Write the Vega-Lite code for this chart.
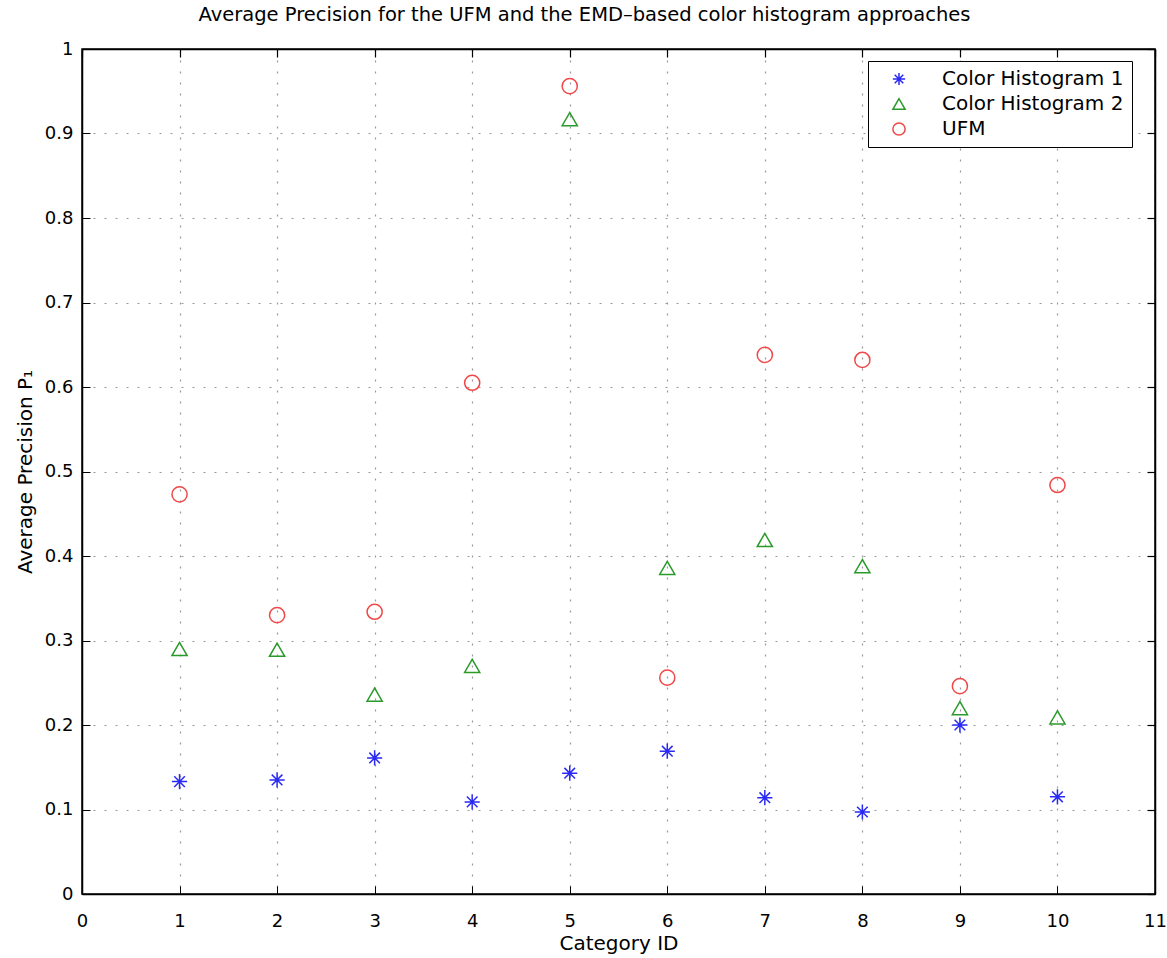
{
  "$schema": "https://vega.github.io/schema/vega-lite/v6.json",
  "width": 1073,
  "height": 845,
  "autosize": {"type": "none"},
  "padding": {"left": 82, "top": 49, "right": 12, "bottom": 64},
  "background": "white",
  "config": {
    "font": "DejaVu Sans",
    "view": {"stroke": "black", "strokeWidth": 1.5},
    "axis": {"labelFont": "DejaVu Sans", "titleFont": "DejaVu Sans", "labelColor": "black", "titleColor": "black", "titleFontWeight": "normal", "domainColor": "black", "tickColor": "black"}
  },
  "title": {"text": "Average Precision for the UFM and the EMD\u2013based color histogram approaches", "fontSize": 19.5, "fontWeight": "normal", "font": "DejaVu Sans", "offset": 15, "dx": -34, "color": "black"},
  "data": {"values": [
    {"category": 1, "series": "Color Histogram 1", "precision": 0.133},
    {"category": 2, "series": "Color Histogram 1", "precision": 0.135},
    {"category": 3, "series": "Color Histogram 1", "precision": 0.161},
    {"category": 4, "series": "Color Histogram 1", "precision": 0.109},
    {"category": 5, "series": "Color Histogram 1", "precision": 0.143},
    {"category": 6, "series": "Color Histogram 1", "precision": 0.169},
    {"category": 7, "series": "Color Histogram 1", "precision": 0.114},
    {"category": 8, "series": "Color Histogram 1", "precision": 0.097},
    {"category": 9, "series": "Color Histogram 1", "precision": 0.200},
    {"category": 10, "series": "Color Histogram 1", "precision": 0.115},
    {"category": 1, "series": "Color Histogram 2", "precision": 0.290},
    {"category": 2, "series": "Color Histogram 2", "precision": 0.289},
    {"category": 3, "series": "Color Histogram 2", "precision": 0.236},
    {"category": 4, "series": "Color Histogram 2", "precision": 0.270},
    {"category": 5, "series": "Color Histogram 2", "precision": 0.917},
    {"category": 6, "series": "Color Histogram 2", "precision": 0.386},
    {"category": 7, "series": "Color Histogram 2", "precision": 0.419},
    {"category": 8, "series": "Color Histogram 2", "precision": 0.388},
    {"category": 9, "series": "Color Histogram 2", "precision": 0.220},
    {"category": 10, "series": "Color Histogram 2", "precision": 0.209},
    {"category": 1, "series": "UFM", "precision": 0.473},
    {"category": 2, "series": "UFM", "precision": 0.330},
    {"category": 3, "series": "UFM", "precision": 0.334},
    {"category": 4, "series": "UFM", "precision": 0.605},
    {"category": 5, "series": "UFM", "precision": 0.956},
    {"category": 6, "series": "UFM", "precision": 0.256},
    {"category": 7, "series": "UFM", "precision": 0.638},
    {"category": 8, "series": "UFM", "precision": 0.632},
    {"category": 9, "series": "UFM", "precision": 0.246},
    {"category": 10, "series": "UFM", "precision": 0.484}
  ]},
  "resolve": {"axis": {"x": "independent", "y": "independent"}},
  "layer": [
    {
      "mark": {"type": "point", "filled": false, "strokeWidth": 1.5, "opacity": 1},
      "encoding": {
        "x": {"field": "category", "type": "quantitative", "scale": {"domain": [0, 11], "nice": false, "zero": false},
          "axis": {"title": "Category ID", "titleFontSize": 20, "titlePadding": 3, "labelFontSize": 18, "values": [0,1,2,3,4,5,6,7,8,9,10,11], "labelOverlap": false, "tickSize": -8, "labelPadding": 26, "domainWidth": 1.5, "gridColor": "#999999", "gridDash": [2, 9], "gridWidth": 1.2, "grid": true, "labelFlush": false}},
        "y": {"field": "precision", "type": "quantitative", "scale": {"domain": [0, 1], "nice": false},
          "axis": {"title": "Average Precision P\u2081", "titleFontSize": 20, "titlePadding": 9, "labelFontSize": 18, "format": "~g", "values": [0,0.1,0.2,0.3,0.4,0.5,0.6,0.7,0.8,0.9,1], "labelOverlap": false, "tickSize": -8, "labelPadding": 17, "domainWidth": 1.5, "gridColor": "#999999", "gridDash": [2, 9], "gridWidth": 1.2, "grid": true, "labelFlush": false}},
        "color": {"field": "series", "type": "nominal",
          "scale": {"domain": ["Color Histogram 1", "Color Histogram 2", "UFM"], "range": ["#2a2af5", "#2a9a2a", "#f04848"]},
          "legend": {"title": null, "orient": "none", "legendX": 786, "legendY": 12, "labelFontSize": 20, "labelLimit": 400, "labelFont": "DejaVu Sans", "labelColor": "black", "strokeColor": "black", "fillColor": "white", "padding": 8, "rowPadding": 5, "symbolOffset": 13, "labelOffset": 33, "symbolStrokeWidth": 1.5, "symbolSize": 150, "symbolFillColor": "transparent"}},
        "shape": {"field": "series", "type": "nominal",
          "scale": {"domain": ["Color Histogram 1", "Color Histogram 2", "UFM"], "range": ["M-1,0L1,0M0,-1L0,1M-0.7,-0.7L0.7,0.7M-0.7,0.7L0.7,-0.7", "triangle-up", "circle"]}},
        "size": {"value": 230}
      }
    },
    {
      "mark": {"type": "point", "opacity": 0},
      "encoding": {
        "x": {"field": "category", "type": "quantitative", "scale": {"domain": [0, 11], "nice": false, "zero": false},
          "axis": {"orient": "top", "title": null, "labels": false, "values": [0,1,2,3,4,5,6,7,8,9,10,11], "tickSize": -8, "tickWidth": 1.2, "domainWidth": 1.5, "grid": false}},
        "y": {"field": "precision", "type": "quantitative", "scale": {"domain": [0, 1], "nice": false},
          "axis": {"orient": "right", "title": null, "labels": false, "values": [0,0.1,0.2,0.3,0.4,0.5,0.6,0.7,0.8,0.9,1], "tickSize": -8, "tickWidth": 1.2, "domainWidth": 1.5, "grid": false}}
      }
    }
  ]
}
